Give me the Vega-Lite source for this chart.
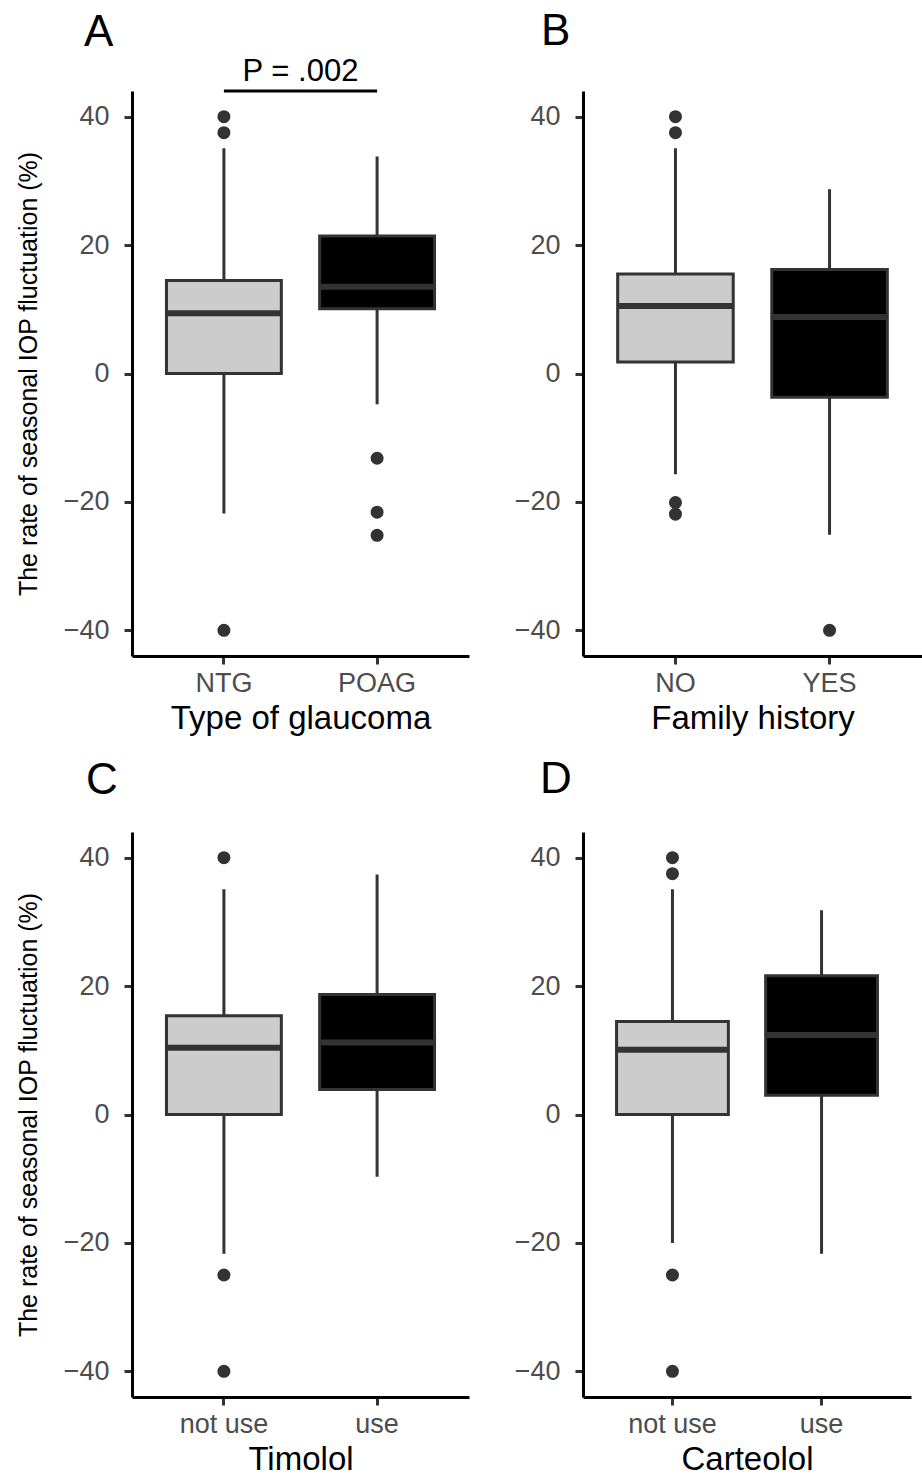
{
  "$schema": "https://vega.github.io/schema/vega-lite/v6.json",
  "background": "white",
  "padding": {"left": 16, "top": 10, "right": 0, "bottom": 0},
  "datasets": {
    "boxes": [
      {"panel": "A", "cat": "NTG", "lower": -21.8, "q1": 0, "median": 9.4, "q3": 14.5, "upper": 35.1},
      {"panel": "A", "cat": "POAG", "lower": -4.8, "q1": 10.1, "median": 13.5, "q3": 21.4, "upper": 33.8},
      {"panel": "B", "cat": "NO", "lower": -15.7, "q1": 1.8, "median": 10.5, "q3": 15.5, "upper": 35.1},
      {"panel": "B", "cat": "YES", "lower": -25.1, "q1": -3.7, "median": 8.8, "q3": 16.2, "upper": 28.7},
      {"panel": "C", "cat": "not use", "lower": -21.7, "q1": 0, "median": 10.4, "q3": 15.4, "upper": 35.1},
      {"panel": "C", "cat": "use", "lower": -9.7, "q1": 3.9, "median": 11.2, "q3": 18.7, "upper": 37.4},
      {"panel": "D", "cat": "not use", "lower": -20.0, "q1": 0, "median": 10.1, "q3": 14.5, "upper": 35.1},
      {"panel": "D", "cat": "use", "lower": -21.7, "q1": 3.0, "median": 12.4, "q3": 21.6, "upper": 31.8}
    ],
    "outliers": [
      {"panel": "A", "cat": "NTG", "value": 40},
      {"panel": "A", "cat": "NTG", "value": 37.5},
      {"panel": "A", "cat": "NTG", "value": -40},
      {"panel": "A", "cat": "POAG", "value": -13.2},
      {"panel": "A", "cat": "POAG", "value": -21.6},
      {"panel": "A", "cat": "POAG", "value": -25.2},
      {"panel": "B", "cat": "NO", "value": 40},
      {"panel": "B", "cat": "NO", "value": 37.5},
      {"panel": "B", "cat": "NO", "value": -20.1},
      {"panel": "B", "cat": "NO", "value": -21.9},
      {"panel": "B", "cat": "YES", "value": -40},
      {"panel": "C", "cat": "not use", "value": 40},
      {"panel": "C", "cat": "not use", "value": -25},
      {"panel": "C", "cat": "not use", "value": -40},
      {"panel": "D", "cat": "not use", "value": 40},
      {"panel": "D", "cat": "not use", "value": 37.5},
      {"panel": "D", "cat": "not use", "value": -25},
      {"panel": "D", "cat": "not use", "value": -40}
    ],
    "pval": [
      {"panel": "A", "from": "NTG", "to": "POAG", "label": "P = .002"}
    ]
  },
  "columns": 2,
  "bounds": "flush",
  "spacing": {"row": 176, "column": 114},
  "concat": [
    {
      "width": 337, "height": 565,
      "title": {"text": "A", "anchor": "start", "frame": "group", "dx": -48, "offset": -34, "baseline": "alphabetic"},
      "layer": [
        {"data": {"name": "boxes"}, "transform": [{"filter": "datum.panel === 'A'"}],
         "mark": {"type": "rule", "stroke": "#333333", "strokeWidth": 3},
         "encoding": {
           "x": {"field": "cat", "type": "nominal", "scale": {"domain": ["NTG", "POAG"], "paddingInner": 0.25, "paddingOuter": 0.225}, "title": "Type of glaucoma"},
           "y": {"field": "lower", "type": "quantitative", "scale": {"domain": [-44, 44], "nice": false, "zero": false}, "axis": {"values": [-40, -20, 0, 20, 40]}, "title": "The rate of seasonal IOP fluctuation (%)"},
           "y2": {"field": "upper"}
         }},
        {"data": {"name": "boxes"}, "transform": [{"filter": "datum.panel === 'A'"}],
         "mark": {"type": "bar", "stroke": "#333333", "strokeWidth": 3},
         "encoding": {
           "x": {"field": "cat", "type": "nominal", "scale": {"domain": ["NTG", "POAG"], "paddingInner": 0.25, "paddingOuter": 0.225}, "title": "Type of glaucoma"},
           "y": {"field": "q1", "type": "quantitative", "scale": {"domain": [-44, 44], "nice": false, "zero": false}, "title": "The rate of seasonal IOP fluctuation (%)"},
           "y2": {"field": "q3"},
           "fill": {"field": "cat", "type": "nominal", "scale": {"domain": ["NTG", "POAG", "NO", "YES", "not use", "use"], "range": ["#CCCCCC", "#000000", "#CCCCCC", "#000000", "#CCCCCC", "#000000"]}, "legend": null}
         }},
        {"data": {"name": "boxes"}, "transform": [{"filter": "datum.panel === 'A'"}],
         "mark": {"type": "bar", "fill": "#333333", "stroke": "#333333", "strokeWidth": 6},
         "encoding": {
           "x": {"field": "cat", "type": "nominal", "scale": {"domain": ["NTG", "POAG"], "paddingInner": 0.25, "paddingOuter": 0.225}, "title": "Type of glaucoma"},
           "y": {"field": "median", "type": "quantitative", "scale": {"domain": [-44, 44], "nice": false, "zero": false}, "title": "The rate of seasonal IOP fluctuation (%)"},
           "y2": {"field": "median"}
         }},
        {"data": {"name": "outliers"}, "transform": [{"filter": "datum.panel === 'A'"}],
         "mark": {"type": "circle", "size": 170, "color": "#333333", "opacity": 1},
         "encoding": {
           "x": {"field": "cat", "type": "nominal", "scale": {"domain": ["NTG", "POAG"], "paddingInner": 0.25, "paddingOuter": 0.225}, "title": "Type of glaucoma"},
           "y": {"field": "value", "type": "quantitative", "scale": {"domain": [-44, 44], "nice": false, "zero": false}, "title": "The rate of seasonal IOP fluctuation (%)"}
         }},
        {"data": {"name": "pval"},
         "mark": {"type": "rule", "stroke": "#000000", "strokeWidth": 3, "clip": false},
         "encoding": {
           "x": {"field": "from", "type": "nominal", "scale": {"domain": ["NTG", "POAG"], "paddingInner": 0.25, "paddingOuter": 0.225}, "title": "Type of glaucoma"},
           "x2": {"field": "to"},
           "y": {"datum": 44, "type": "quantitative", "scale": {"domain": [-44, 44], "nice": false, "zero": false}, "title": "The rate of seasonal IOP fluctuation (%)"}
         }},
        {"data": {"name": "pval"},
         "mark": {"type": "text", "font": "Liberation Sans", "fontSize": 31, "color": "#000000", "baseline": "alphabetic", "align": "center", "dy": -10, "clip": false},
         "encoding": {
           "x": {"field": "from", "type": "nominal", "bandPosition": 1.1667, "scale": {"domain": ["NTG", "POAG"], "paddingInner": 0.25, "paddingOuter": 0.225}, "title": "Type of glaucoma"},
           "y": {"datum": 44, "type": "quantitative", "scale": {"domain": [-44, 44], "nice": false, "zero": false}, "title": "The rate of seasonal IOP fluctuation (%)"},
           "text": {"field": "label"}
         }}
      ]
    },
    {
      "width": 339, "height": 565,
      "title": {"text": "B", "anchor": "start", "frame": "group", "dx": -42, "offset": 2, "baseline": "alphabetic"},
      "layer": [
        {"data": {"name": "boxes"}, "transform": [{"filter": "datum.panel === 'B'"}],
         "mark": {"type": "rule", "stroke": "#333333", "strokeWidth": 3},
         "encoding": {
           "x": {"field": "cat", "type": "nominal", "scale": {"domain": ["NO", "YES"], "paddingInner": 0.25, "paddingOuter": 0.225}, "title": "Family history"},
           "y": {"field": "lower", "type": "quantitative", "scale": {"domain": [-44, 44], "nice": false, "zero": false}, "axis": {"values": [-40, -20, 0, 20, 40]}, "title": null},
           "y2": {"field": "upper"}
         }},
        {"data": {"name": "boxes"}, "transform": [{"filter": "datum.panel === 'B'"}],
         "mark": {"type": "bar", "stroke": "#333333", "strokeWidth": 3},
         "encoding": {
           "x": {"field": "cat", "type": "nominal", "scale": {"domain": ["NO", "YES"], "paddingInner": 0.25, "paddingOuter": 0.225}, "title": "Family history"},
           "y": {"field": "q1", "type": "quantitative", "scale": {"domain": [-44, 44], "nice": false, "zero": false}, "title": null},
           "y2": {"field": "q3"},
           "fill": {"field": "cat", "type": "nominal", "scale": {"domain": ["NTG", "POAG", "NO", "YES", "not use", "use"], "range": ["#CCCCCC", "#000000", "#CCCCCC", "#000000", "#CCCCCC", "#000000"]}, "legend": null}
         }},
        {"data": {"name": "boxes"}, "transform": [{"filter": "datum.panel === 'B'"}],
         "mark": {"type": "bar", "fill": "#333333", "stroke": "#333333", "strokeWidth": 6},
         "encoding": {
           "x": {"field": "cat", "type": "nominal", "scale": {"domain": ["NO", "YES"], "paddingInner": 0.25, "paddingOuter": 0.225}, "title": "Family history"},
           "y": {"field": "median", "type": "quantitative", "scale": {"domain": [-44, 44], "nice": false, "zero": false}, "title": null},
           "y2": {"field": "median"}
         }},
        {"data": {"name": "outliers"}, "transform": [{"filter": "datum.panel === 'B'"}],
         "mark": {"type": "circle", "size": 170, "color": "#333333", "opacity": 1},
         "encoding": {
           "x": {"field": "cat", "type": "nominal", "scale": {"domain": ["NO", "YES"], "paddingInner": 0.25, "paddingOuter": 0.225}, "title": "Family history"},
           "y": {"field": "value", "type": "quantitative", "scale": {"domain": [-44, 44], "nice": false, "zero": false}, "title": null}
         }}
      ]
    },
    {
      "width": 337, "height": 565,
      "title": {"text": "C", "anchor": "start", "frame": "group", "dx": -46, "offset": -6, "baseline": "alphabetic"},
      "layer": [
        {"data": {"name": "boxes"}, "transform": [{"filter": "datum.panel === 'C'"}],
         "mark": {"type": "rule", "stroke": "#333333", "strokeWidth": 3},
         "encoding": {
           "x": {"field": "cat", "type": "nominal", "scale": {"domain": ["not use", "use"], "paddingInner": 0.25, "paddingOuter": 0.225}, "title": "Timolol"},
           "y": {"field": "lower", "type": "quantitative", "scale": {"domain": [-44, 44], "nice": false, "zero": false}, "axis": {"values": [-40, -20, 0, 20, 40]}, "title": "The rate of seasonal IOP fluctuation (%)"},
           "y2": {"field": "upper"}
         }},
        {"data": {"name": "boxes"}, "transform": [{"filter": "datum.panel === 'C'"}],
         "mark": {"type": "bar", "stroke": "#333333", "strokeWidth": 3},
         "encoding": {
           "x": {"field": "cat", "type": "nominal", "scale": {"domain": ["not use", "use"], "paddingInner": 0.25, "paddingOuter": 0.225}, "title": "Timolol"},
           "y": {"field": "q1", "type": "quantitative", "scale": {"domain": [-44, 44], "nice": false, "zero": false}, "title": "The rate of seasonal IOP fluctuation (%)"},
           "y2": {"field": "q3"},
           "fill": {"field": "cat", "type": "nominal", "scale": {"domain": ["NTG", "POAG", "NO", "YES", "not use", "use"], "range": ["#CCCCCC", "#000000", "#CCCCCC", "#000000", "#CCCCCC", "#000000"]}, "legend": null}
         }},
        {"data": {"name": "boxes"}, "transform": [{"filter": "datum.panel === 'C'"}],
         "mark": {"type": "bar", "fill": "#333333", "stroke": "#333333", "strokeWidth": 6},
         "encoding": {
           "x": {"field": "cat", "type": "nominal", "scale": {"domain": ["not use", "use"], "paddingInner": 0.25, "paddingOuter": 0.225}, "title": "Timolol"},
           "y": {"field": "median", "type": "quantitative", "scale": {"domain": [-44, 44], "nice": false, "zero": false}, "title": "The rate of seasonal IOP fluctuation (%)"},
           "y2": {"field": "median"}
         }},
        {"data": {"name": "outliers"}, "transform": [{"filter": "datum.panel === 'C'"}],
         "mark": {"type": "circle", "size": 170, "color": "#333333", "opacity": 1},
         "encoding": {
           "x": {"field": "cat", "type": "nominal", "scale": {"domain": ["not use", "use"], "paddingInner": 0.25, "paddingOuter": 0.225}, "title": "Timolol"},
           "y": {"field": "value", "type": "quantitative", "scale": {"domain": [-44, 44], "nice": false, "zero": false}, "title": "The rate of seasonal IOP fluctuation (%)"}
         }}
      ]
    },
    {
      "width": 328, "height": 565,
      "title": {"text": "D", "anchor": "start", "frame": "group", "dx": -43, "offset": -5, "baseline": "alphabetic"},
      "layer": [
        {"data": {"name": "boxes"}, "transform": [{"filter": "datum.panel === 'D'"}],
         "mark": {"type": "rule", "stroke": "#333333", "strokeWidth": 3},
         "encoding": {
           "x": {"field": "cat", "type": "nominal", "scale": {"domain": ["not use", "use"], "paddingInner": 0.25, "paddingOuter": 0.225}, "title": "Carteolol"},
           "y": {"field": "lower", "type": "quantitative", "scale": {"domain": [-44, 44], "nice": false, "zero": false}, "axis": {"values": [-40, -20, 0, 20, 40]}, "title": null},
           "y2": {"field": "upper"}
         }},
        {"data": {"name": "boxes"}, "transform": [{"filter": "datum.panel === 'D'"}],
         "mark": {"type": "bar", "stroke": "#333333", "strokeWidth": 3},
         "encoding": {
           "x": {"field": "cat", "type": "nominal", "scale": {"domain": ["not use", "use"], "paddingInner": 0.25, "paddingOuter": 0.225}, "title": "Carteolol"},
           "y": {"field": "q1", "type": "quantitative", "scale": {"domain": [-44, 44], "nice": false, "zero": false}, "title": null},
           "y2": {"field": "q3"},
           "fill": {"field": "cat", "type": "nominal", "scale": {"domain": ["NTG", "POAG", "NO", "YES", "not use", "use"], "range": ["#CCCCCC", "#000000", "#CCCCCC", "#000000", "#CCCCCC", "#000000"]}, "legend": null}
         }},
        {"data": {"name": "boxes"}, "transform": [{"filter": "datum.panel === 'D'"}],
         "mark": {"type": "bar", "fill": "#333333", "stroke": "#333333", "strokeWidth": 6},
         "encoding": {
           "x": {"field": "cat", "type": "nominal", "scale": {"domain": ["not use", "use"], "paddingInner": 0.25, "paddingOuter": 0.225}, "title": "Carteolol"},
           "y": {"field": "median", "type": "quantitative", "scale": {"domain": [-44, 44], "nice": false, "zero": false}, "title": null},
           "y2": {"field": "median"}
         }},
        {"data": {"name": "outliers"}, "transform": [{"filter": "datum.panel === 'D'"}],
         "mark": {"type": "circle", "size": 170, "color": "#333333", "opacity": 1},
         "encoding": {
           "x": {"field": "cat", "type": "nominal", "scale": {"domain": ["not use", "use"], "paddingInner": 0.25, "paddingOuter": 0.225}, "title": "Carteolol"},
           "y": {"field": "value", "type": "quantitative", "scale": {"domain": [-44, 44], "nice": false, "zero": false}, "title": null}
         }}
      ]
    }
  ],
  "config": {
    "font": "Liberation Sans",
    "view": {"stroke": null},
    "axis": {
      "grid": false,
      "domainColor": "#000000",
      "domainWidth": 3,
      "tickColor": "#333333",
      "tickWidth": 3,
      "tickSize": 8,
      "labelColor": "#4D4D4D",
      "labelFont": "Liberation Sans",
      "labelFontSize": 27,
      "titleFont": "Liberation Sans",
      "titleColor": "#000000",
      "titleFontWeight": "normal"
    },
    "axisX": {"labelPadding": 6, "labelAngle": 0, "titleFontSize": 33, "titlePadding": 6},
    "axisY": {"labelPadding": 15, "titleFontSize": 25, "titlePadding": 22},
    "title": {"font": "Liberation Sans", "fontSize": 44, "fontWeight": "normal", "color": "#000000"}
  }
}
